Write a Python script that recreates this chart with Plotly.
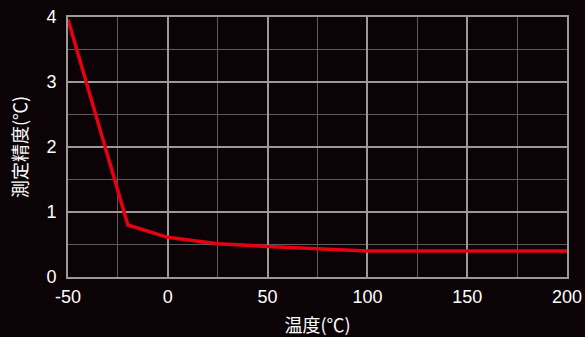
import plotly.graph_objects as go

temps = [-50, -20, 0, 25, 50, 75, 100, 150, 200]
accuracy = [3.96, 0.80, 0.61, 0.51, 0.47, 0.44, 0.40, 0.40, 0.40]
x_ticks = [-50, 0, 50, 100, 150, 200]
y_ticks = [0, 1, 2, 3, 4]

bg = "#0b0305"
major = "#9a9a9a"
minor = "#5c5c5c"

fig = go.Figure()
fig.add_trace(go.Scatter(x=temps, y=accuracy, mode="lines",
                         line=dict(color="#e60012", width=3.5), showlegend=False))

fig.update_layout(
    width=585, height=337,
    paper_bgcolor=bg, plot_bgcolor=bg,
    margin=dict(l=68, r=18, t=17, b=60),
    font=dict(family="Liberation Sans, Arial, sans-serif", color="white", size=18),
)
fig.update_xaxes(
    range=[-50, 200], tickvals=x_ticks, ticktext=[str(v) for v in x_ticks],
    showgrid=True, gridcolor=major, gridwidth=2, automargin=False,
    minor=dict(dtick=25, tick0=-50, showgrid=True, gridcolor=minor, gridwidth=1),
    zeroline=False, showline=True, linecolor=major, linewidth=2, mirror=True,
    ticks="", ticklabelstandoff=2,
    title=dict(text="温度(℃)", font=dict(size=18, family="Noto Sans CJK JP, sans-serif"), standoff=16),
)
fig.update_yaxes(
    range=[0, 4], tickvals=y_ticks, ticktext=[str(v) for v in y_ticks],
    showgrid=True, gridcolor=major, gridwidth=2, automargin=False,
    minor=dict(dtick=0.5, tick0=0, showgrid=True, gridcolor=minor, gridwidth=1),
    zeroline=False, showline=True, linecolor=major, linewidth=2, mirror=True,
    ticks="", ticklabelstandoff=6,
    title=dict(text="測定精度(℃)", font=dict(size=18, family="Noto Sans CJK JP, sans-serif"), standoff=14),
)

fig.write_html("out.html", config={"displayModeBar": False},
               post_script="document.body.style.margin='0';document.body.style.overflow='hidden';")
